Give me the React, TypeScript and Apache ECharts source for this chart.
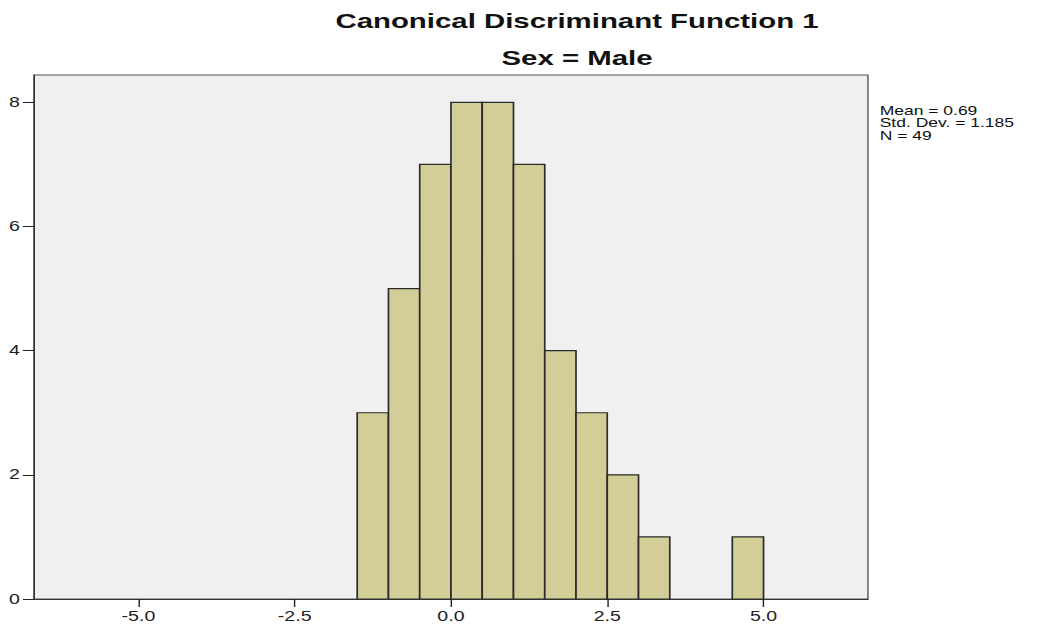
import React, { useEffect, useRef } from "react";
import * as echarts from "echarts";

// Histogram data (bin edges and counts)
const binEdges = [-1.5, -1.0, -0.5, 0.0, 0.5, 1.0, 1.5, 2.0, 2.5, 3.0, 3.5, 4.0, 4.5, 5.0];
const counts = [3, 5, 7, 8, 8, 7, 4, 3, 2, 1, 0, 0, 1];
const xTickValues = [-5.0, -2.5, 0.0, 2.5, 5.0];
const yTickValues = [0, 2, 4, 6, 8];
const titleText = "Canonical Discriminant Function 1";
const subtitleText = "Sex = Male";
const statsLines = ["Mean = 0.69", "Std. Dev. = 1.185", "N = 49"];

const FONT = "'Liberation Sans', Arial, Helvetica, sans-serif";
const STRETCH = 1037 / 741;

export default function App() {
  const ref = useRef<HTMLDivElement>(null);

  useEffect(() => {
    if (!ref.current) return;
    const chart = echarts.init(ref.current, undefined, { renderer: "svg" });
    const data = counts.map((c, i) => [binEdges[i], binEdges[i + 1], c]);

    chart.setOption({
      animation: false,
      backgroundColor: "#ffffff",
      grid: {
        left: 24.3,
        right: 120.8,
        top: 75,
        bottom: 30,
        show: true,
        backgroundColor: "#F0F0F0",
        borderColor: "#555555",
        borderWidth: 1,
      },
      xAxis: {
        type: "value",
        min: -6.67,
        max: 6.67,
        splitLine: { show: false },
        axisLine: { show: true, onZero: false, lineStyle: { color: "#333333", width: 1 } },
        axisTick: { show: true, length: 8, customValues: xTickValues, lineStyle: { color: "#222222", width: 1 } },
        axisLabel: {
          customValues: xTickValues,
          formatter: (v: number) => v.toFixed(1),
          color: "#222222",
          fontFamily: FONT,
          fontSize: 14,
          margin: 10,
        },
      },
      yAxis: {
        type: "value",
        min: 0,
        max: 8.44,
        splitLine: { show: false },
        axisLine: { show: true, onZero: false, lineStyle: { color: "#333333", width: 1 } },
        axisTick: { show: true, length: 8, customValues: yTickValues, lineStyle: { color: "#222222", width: 1 } },
        axisLabel: {
          customValues: yTickValues,
          formatter: (v: number) => String(v),
          color: "#222222",
          fontFamily: FONT,
          fontSize: 14,
          margin: 10,
        },
      },
      graphic: [
        {
          type: "text",
          x: 412.3,
          y: 21,
          style: {
            text: titleText,
            font: `bold 21px ${FONT}`,
            fill: "#111111",
            textAlign: "center",
            textVerticalAlign: "middle",
          },
        },
        {
          type: "text",
          x: 412.3,
          y: 58,
          style: {
            text: subtitleText,
            font: `bold 21px ${FONT}`,
            fill: "#111111",
            textAlign: "center",
            textVerticalAlign: "middle",
          },
        },
        {
          type: "text",
          x: 628.6,
          y: 104,
          style: {
            text: statsLines.join("\n"),
            font: `12.5px ${FONT}`,
            lineHeight: 12.5,
            fill: "#111111",
            textAlign: "left",
            textVerticalAlign: "top",
          },
        },
      ],
      series: [
        {
          type: "custom",
          data,
          encode: { x: [0, 1], y: 2 },
          clip: true,
          renderItem: (params: any, api: any) => {
            const x0 = api.value(0);
            const x1 = api.value(1);
            const c = api.value(2);
            if (!c) return null;
            const p0 = api.coord([x0, c]);
            const p1 = api.coord([x1, 0]);
            return {
              type: "rect",
              shape: { x: p0[0], y: p0[1], width: p1[0] - p0[0], height: p1[1] - p0[1] },
              style: { fill: "#D3CE97", stroke: "#2a2a2a", lineWidth: 1.2 },
            };
          },
        },
      ],
    });

    return () => chart.dispose();
  }, []);

  return (
    <div
      style={{
        position: "fixed",
        left: 0,
        top: 0,
        width: 1037,
        height: 629,
        overflow: "hidden",
        background: "#ffffff",
      }}
    >
      <div
        ref={ref}
        style={{
          width: 741,
          height: 629,
          transform: `scaleX(${STRETCH})`,
          transformOrigin: "0 0",
        }}
      />
    </div>
  );
}
